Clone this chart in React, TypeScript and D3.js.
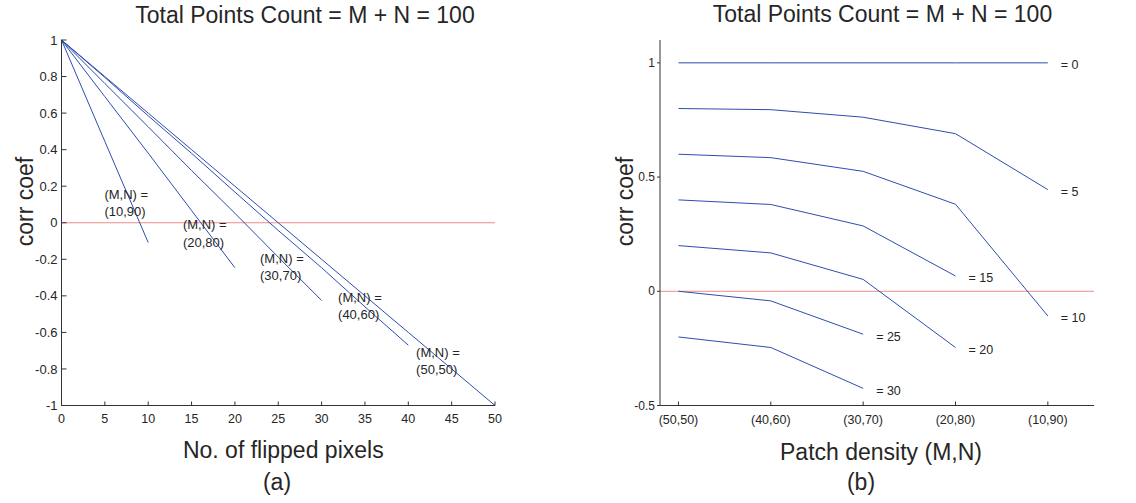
import React from "react";
import * as d3 from "d3";

// ---------- data: panel (a) ----------
const flippedTicks = [0, 5, 10, 15, 20, 25, 30, 35, 40, 45, 50];
const corrTicksA = [-1, -0.8, -0.6, -0.4, -0.2, 0, 0.2, 0.4, 0.6, 0.8, 1];
const seriesNamesA = ["(10,90)", "(20,80)", "(30,70)", "(40,60)", "(50,50)"];
const flippedA = [
  [0, 5, 10],
  [0, 5, 10, 15, 20],
  [0, 5, 10, 15, 20, 25, 30],
  [0, 5, 10, 15, 20, 25, 30, 35, 40],
  [0, 5, 10, 15, 20, 25, 30, 35, 40, 45, 50],
];
const corrA = [
  [1, 0.445, -0.108],
  [1, 0.69, 0.381, 0.067, -0.246],
  [1, 0.762, 0.525, 0.286, 0.052, -0.188, -0.425],
  [1, 0.795, 0.585, 0.38, 0.168, -0.042, -0.246, -0.46, -0.67],
  [1, 0.8, 0.6, 0.4, 0.2, 0, -0.2, -0.4, -0.6, -0.8, -1],
];
// annotation anchors in data units (x, first-line baseline y)
const annotXA = [4.95, 14, 22.9, 31.9, 40.9];
const annotYA = [0.13, -0.036, -0.218, -0.432, -0.733];

// ---------- data: panel (b) ----------
const densityCats = ["(50,50)", "(40,60)", "(30,70)", "(20,80)", "(10,90)"];
const corrTicksB = [-0.5, 0, 0.5, 1];
const flipCountsB = [0, 5, 10, 15, 20, 25, 30];
const corrB = [
  [1, 1, 1, 1, 1],
  [0.8, 0.795, 0.762, 0.69, 0.445],
  [0.6, 0.585, 0.525, 0.381, -0.108],
  [0.4, 0.38, 0.286, 0.067],
  [0.2, 0.168, 0.052, -0.246],
  [0, -0.042, -0.188],
  [-0.2, -0.246, -0.425],
];

const FONT = "'Liberation Sans', Arial, Helvetica, sans-serif";
const TXT = "#262626";
const AX = "#333333";
const BLUE = "#2e4db0";
const RED = "#f08a8a";

const fmt = (v: number) => String(Math.round(v * 100) / 100);

export default function App() {
  const W = 1136, H = 503;
  const yTop = 40, yBot = 405.5;

  // panel (a) scales
  const xA = d3.scaleLinear().domain([0, 50]).range([61.5, 495]);
  const yA = d3.scaleLinear().domain([-1, 1]).range([yBot, yTop]);
  // panel (b) scales
  const xB = d3.scaleLinear().domain([-0.2, 4.5]).range([660, 1094]);
  const yB = d3.scaleLinear().domain([-0.5, 1.1]).range([yBot, yTop]);

  const lineA = d3.line<[number, number]>().x((d) => xA(d[0])).y((d) => yA(d[1]));
  const lineB = d3.line<[number, number]>().x((d) => xB(d[0])).y((d) => yB(d[1]));

  const [xa0, xa1] = xA.range();
  const [xb0, xb1] = xB.range();

  return (
    <div style={{ position: "fixed", left: 0, top: 0 }}>
      <svg width={W} height={H} style={{ display: "block", background: "#fff" }} fontFamily={FONT}>
        {/* ================= Panel (a) ================= */}
        <text x={305} y={23.3} textAnchor="middle" fontSize={23} fill={TXT}>
          Total Points Count = M + N = 100
        </text>
        <line x1={xa0} x2={xa1} y1={yA(0)} y2={yA(0)} stroke={RED} strokeWidth={1} />
        {corrA.map((vals, i) => (
          <path
            key={i}
            d={lineA(vals.map((v, j) => [flippedA[i][j], v]) as [number, number][]) || ""}
            fill="none"
            stroke={BLUE}
            strokeWidth={1}
          />
        ))}
        {seriesNamesA.map((nm, i) => (
          <text key={nm} x={xA(annotXA[i])} y={yA(annotYA[i])} fontSize={13} fill={TXT}>
            <tspan x={xA(annotXA[i])}>(M,N) =</tspan>
            <tspan x={xA(annotXA[i])} dy={17.5}>{nm}</tspan>
          </text>
        ))}
        <line x1={xa0} x2={xa0} y1={yTop} y2={yBot} stroke={AX} strokeWidth={1} />
        <line x1={xa0} x2={xa1} y1={yBot} y2={yBot} stroke={AX} strokeWidth={1} />
        {corrTicksA.map((t) => (
          <g key={"ya" + t}>
            <line x1={xa0} x2={xa0 + 5} y1={yA(t)} y2={yA(t)} stroke={AX} strokeWidth={1} />
            <text x={xa0 - 4} y={yA(t)} dy="0.35em" textAnchor="end" fontSize={13} fill={TXT}>
              {fmt(t)}
            </text>
          </g>
        ))}
        {flippedTicks.map((t) => (
          <g key={"xa" + t}>
            <line x1={xA(t)} x2={xA(t)} y1={yBot} y2={yBot - 4} stroke={AX} strokeWidth={1} />
            <text x={xA(t)} y={423} textAnchor="middle" fontSize={12.5} fill={TXT}>
              {t}
            </text>
          </g>
        ))}
        <text transform={`translate(33,201.5) rotate(-90)`} textAnchor="middle" fontSize={23} fill={TXT}>
          corr coef
        </text>
        <text x={283.3} y={458.3} textAnchor="middle" fontSize={23} fill={TXT}>
          No. of flipped pixels
        </text>
        <text x={277} y={490} textAnchor="middle" fontSize={23} fill={TXT}>
          (a)
        </text>

        {/* ================= Panel (b) ================= */}
        <text x={882.5} y={21.7} textAnchor="middle" fontSize={23} fill={TXT}>
          Total Points Count = M + N = 100
        </text>
        <line x1={xb0} x2={xb1} y1={yB(0)} y2={yB(0)} stroke={RED} strokeWidth={1} />
        {corrB.map((vals, i) => (
          <path
            key={i}
            d={lineB(vals.map((v, j) => [j, v]) as [number, number][]) || ""}
            fill="none"
            stroke={BLUE}
            strokeWidth={1}
          />
        ))}
        {corrB.map((vals, i) => {
          const j = vals.length - 1;
          return (
            <text key={"lb" + i} x={xB(j) + 13} y={yB(vals[j]) + 2} dy="0.35em" fontSize={12.5} fill={TXT}>
              {"= " + flipCountsB[i]}
            </text>
          );
        })}
        <line x1={xb0} x2={xb0} y1={yTop} y2={yBot} stroke={AX} strokeWidth={1} />
        <line x1={xb0} x2={xb1} y1={yBot} y2={yBot} stroke={AX} strokeWidth={1} />
        {corrTicksB.map((t) => (
          <g key={"yb" + t}>
            <line x1={xb0 - 3} x2={xb0} y1={yB(t)} y2={yB(t)} stroke={AX} strokeWidth={1} />
            <text x={xb0 - 5} y={yB(t)} dy="0.35em" textAnchor="end" fontSize={12} fill={TXT}>
              {fmt(t)}
            </text>
          </g>
        ))}
        {densityCats.map((c, i) => (
          <g key={"xb" + c}>
            <line x1={xB(i)} x2={xB(i)} y1={yBot} y2={yBot - 4} stroke={AX} strokeWidth={1} />
            <text x={xB(i)} y={424} textAnchor="middle" fontSize={12.5} fill={TXT}>
              {c}
            </text>
          </g>
        ))}
        <text transform={`translate(633,201.5) rotate(-90)`} textAnchor="middle" fontSize={23} fill={TXT}>
          corr coef
        </text>
        <text x={881} y={460} textAnchor="middle" fontSize={23} fill={TXT}>
          Patch density (M,N)
        </text>
        <text x={861} y={490} textAnchor="middle" fontSize={23} fill={TXT}>
          (b)
        </text>
      </svg>
    </div>
  );
}
